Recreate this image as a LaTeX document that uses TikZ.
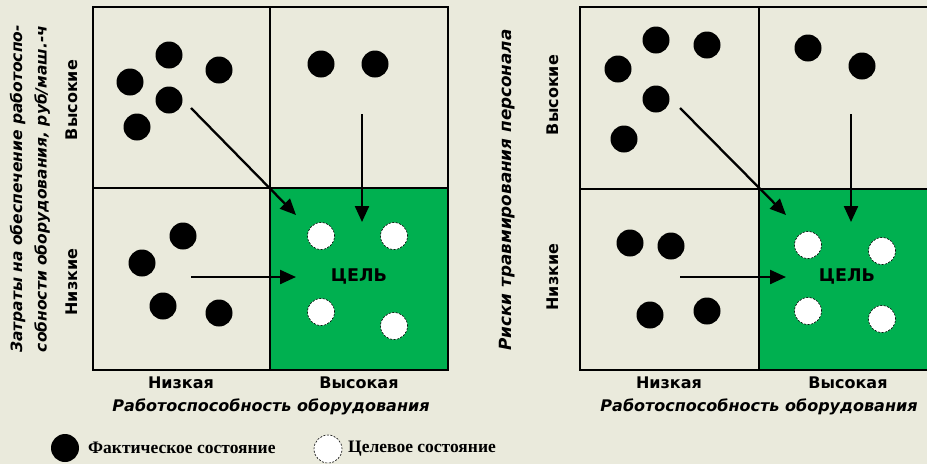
\documentclass[tikz,border=0pt]{standalone}
\usepackage{fontspec}
\setmainfont{Liberation Serif}
\newfontfamily\dv{DejaVu Sans}
\usetikzlibrary{arrows.meta}
\definecolor{bg}{RGB}{234,234,220}
\definecolor{goal}{RGB}{0,176,80}
\tikzset{
  fact/.style={circle,fill=black,inner sep=0pt,minimum size=27pt},
  target/.style={circle,fill=white,draw=black,line width=0.6pt,dash pattern=on 2pt off 1.5pt,inner sep=0pt,minimum size=27pt},
  gridline/.style={line width=2.6pt},
  arr/.style={line width=2.3pt,-{Triangle[length=16pt,width=14pt]}},
  lvl/.style={font=\dv\bfseries\fontsize{16}{18}\selectfont},
  goaltxt/.style={font=\dv\bfseries\fontsize{17.5}{19}\selectfont},
  axislbl/.style={font=\dv\bfseries\itshape\fontsize{16}{24}\selectfont,align=center},
  legendtxt/.style={font=\bfseries\fontsize{17.5}{19}\selectfont,anchor=west,inner sep=0pt},
}
\begin{document}
\begin{tikzpicture}[x=1pt,y=-1pt]
\fill[bg] (0,0) rectangle (927,464);
\useasboundingbox (0,0) rectangle (927,464);
\begin{scope}
\clip (0,0) rectangle (927,464);
% ---------------- left matrix ----------------
\fill[goal] (270,188) rectangle (448,370);
\draw[gridline] (93,7) rectangle (448,370);
\draw[gridline] (270,7) -- (270,370);
\draw[gridline] (93,188) -- (448,188);
\node[fact] (l1) at (169,55) {};
\node[fact] (l2) at (219,70) {};
\node[fact] (l3) at (130,82) {};
\node[fact] (l4) at (169,100) {};
\node[fact] (l5) at (137,127) {};
\node[fact] (l6) at (321,64) {};
\node[fact] (l7) at (375,64) {};
\node[fact] (l8) at (183,236) {};
\node[fact] (l9) at (142,263) {};
\node[fact] (l10) at (163,306) {};
\node[fact] (l11) at (219,313) {};
\node[target] (lt1) at (321,236) {};
\node[target] (lt2) at (394,236) {};
\node[target] (lt3) at (321,312) {};
\node[target] (lt4) at (394,326) {};
\node[goaltxt] (lgoal) at (359,276) {ЦЕЛЬ};
\coordinate (la1s) at (191,108); \coordinate (la1e) at (296,215);
\coordinate (la2s) at (362,114); \coordinate (la2e) at (362,222);
\coordinate (la3s) at (191,277); \coordinate (la3e) at (296,277);
\draw[arr] (la1s) -- (la1e);
\draw[arr] (la2s) -- (la2e);
\draw[arr] (la3s) -- (la3e);
\node[lvl,rotate=90] (lhi) at (72,100) {Высокие};
\node[lvl,rotate=90] (llo) at (72,282) {Низкие};
\node[axislbl,rotate=90,font=\dv\bfseries\itshape\fontsize{15.5}{24.5}\selectfont] (lyax) at (30,189) {Затраты на обеспечение работоспо-\\собности оборудования, руб/маш.-ч};
\node[lvl] (lxlo) at (181,383) {Низкая};
\node[lvl] (lxhi) at (359,383) {Высокая};
\node[axislbl] (lxax) at (271,407) {Работоспособность оборудования};
% ---------------- right matrix ----------------
\fill[goal] (759,189) rectangle (940,370);
\draw[gridline] (580,7) rectangle (940,370);
\draw[gridline] (759,7) -- (759,370);
\draw[gridline] (580,189) -- (940,189);
\node[fact] (r1) at (656,40) {};
\node[fact] (r2) at (707,45) {};
\node[fact] (r3) at (618,69) {};
\node[fact] (r4) at (656,99) {};
\node[fact] (r5) at (624,139) {};
\node[fact] (r6) at (808,48) {};
\node[fact] (r7) at (862,66) {};
\node[fact] (r8) at (630,243) {};
\node[fact] (r9) at (671,246) {};
\node[fact] (r10) at (650,315) {};
\node[fact] (r11) at (707,311) {};
\node[target] (rt1) at (808,245) {};
\node[target] (rt2) at (882,251) {};
\node[target] (rt3) at (808,311) {};
\node[target] (rt4) at (882,319) {};
\node[goaltxt] (rgoal) at (847,276) {ЦЕЛЬ};
\coordinate (ra1s) at (680,108); \coordinate (ra1e) at (786,215);
\coordinate (ra2s) at (851,114); \coordinate (ra2e) at (851,222);
\coordinate (ra3s) at (680,277); \coordinate (ra3e) at (786,277);
\draw[arr] (ra1s) -- (ra1e);
\draw[arr] (ra2s) -- (ra2e);
\draw[arr] (ra3s) -- (ra3e);
\node[lvl,rotate=90] (rhi) at (553,95) {Высокие};
\node[lvl,rotate=90] (rlo) at (553,277) {Низкие};
\node[axislbl,rotate=90,font=\dv\bfseries\itshape\fontsize{16.8}{24}\selectfont] (ryax) at (507,190) {Риски травмирования персонала};
\node[lvl] (rxlo) at (669,383) {Низкая};
\node[lvl] (rxhi) at (848,383) {Высокая};
\node[axislbl] (rxax) at (759,407) {Работоспособность оборудования};
% ---------------- legend ----------------
\node[fact,minimum size=28pt] (kf) at (65,448) {};
\node[legendtxt] (kft) at (88,448) {Фактическое состояние};
\node[target,minimum size=28pt] (kt) at (328,449) {};
\node[legendtxt] (ktt) at (348,449) {Целевое состояние};
\end{scope}
\end{tikzpicture}
\end{document}
